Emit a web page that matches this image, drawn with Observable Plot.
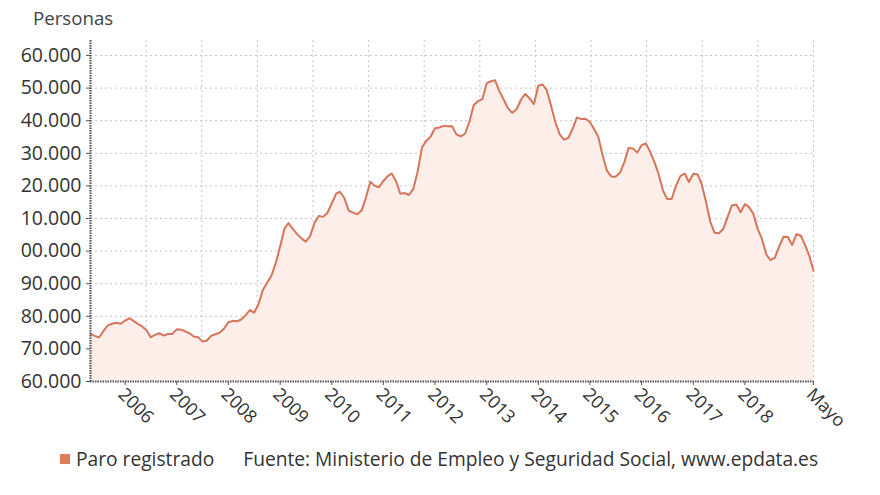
<!DOCTYPE html>
<html>
<head>
<meta charset="utf-8">
<script src="https://cdn.jsdelivr.net/npm/d3@7"></script>
<script src="https://cdn.jsdelivr.net/npm/@observablehq/plot@0.6"></script>
<style>
  body { margin: 0; background: #fff; font-family: "Open Sans", sans-serif; width: 880px; height: 495px; overflow: hidden; position: relative; }
  #title { position: absolute; left: 33px; top: 6px; font-size: 18.7px; color: #444; line-height: 24px; }
  #chart { position: absolute; left: 0; top: 38px; }
  #legend { position: absolute; left: 60px; top: 447px; font-size: 19.2px; color: #333; line-height: 24px; display: flex; align-items: center; white-space: nowrap; }
  #legend .sw { width: 10px; height: 10px; background: #e07b5f; margin-right: 6px; }
  #legend .src { margin-left: 29px; }
</style>
</head>
<body>
<div id="title">Personas</div>
<div id="chart"></div>
<div id="legend"><span class="sw"></span><span>Paro registrado</span><span class="src">Fuente: Ministerio de Empleo y Seguridad Social, www.epdata.es</span></div>
<script>
// Monthly series, May 2005 to May 2019
const firstMonth = "2005-05-01";
const paro = [
  74600, 74000, 73500, 75500, 77200, 77700, 78000, 77700,
  78700, 79400, 78600, 77700, 76900, 75700, 73600, 74300, 74800, 74100, 74600, 74600,
  76000, 75900, 75400, 74800, 73800, 73600, 72300, 72500, 74000, 74500, 75000, 76200,
  78200, 78600, 78500, 79000, 80300, 81900, 81100, 83700, 88100, 90300, 92500, 96300,
  101400, 106900, 108600, 106800, 105200, 103900, 102900, 104600, 108600, 110800, 110500, 111700,
  114600, 117600, 118200, 116200, 112400, 111800, 111300, 112500, 116600, 121300, 120000, 119600,
  121500, 123000, 123800, 121400, 117600, 117800, 117200, 119100, 124500, 131800, 133800, 135100,
  137700, 137900, 138400, 138300, 138300, 135800, 135200, 136000, 139700, 144800, 146000, 146600,
  151500, 152100, 152400, 149000, 146500, 143800, 142400, 143600, 146500, 148200, 146800, 145100,
  150700, 151100, 149400, 144600, 139600, 135800, 134200, 134700, 137600, 141000, 140500, 140600,
  139600, 137300, 135100, 129300, 124700, 122900, 122800, 124000, 127200, 131600, 131500, 130200,
  132500, 133000, 130500, 127300, 123600, 118500, 116000, 116000, 120100, 123000, 123800, 121200,
  123700, 123500, 120600, 115100, 109000, 105600, 105500, 106800, 110500, 114000, 114300, 111900,
  114400, 113400, 111500, 106800, 103800, 99000, 97200, 98000, 101500, 104400, 104300, 101900,
  105200, 104700, 102000, 98600, 94000
];
const xTickDates = ["2006-01-01","2007-01-01","2008-01-01","2009-01-01","2010-01-01","2011-01-01","2012-01-01","2013-01-01","2014-01-01","2015-01-01","2016-01-01","2017-01-01","2018-01-01","2019-05-01"];
const xTickLabels = ["2006","2007","2008","2009","2010","2011","2012","2013","2014","2015","2016","2017","2018","Mayo"];
const yTicks = [60000,70000,80000,90000,100000,110000,120000,130000,140000,150000,160000];
const yTickLabels = ["60.000","70.000","80.000","90.000","00.000","10.000","20.000","30.000","40.000","50.000","60.000"];

const start = new Date(firstMonth + "T00:00:00Z");
const data = paro.map((v, i) => ({date: d3.utcMonth.offset(start, i), value: v}));
const end = data[data.length - 1].date;
const xTicks = xTickDates.map(s => new Date(s + "T00:00:00Z"));
// vertical grid: 13 equal divisions of the period
const gridX = d3.range(1, 14).map(i => new Date(+start + i * (end - start) / 13));
const yMin = 60000, yMax = 164600;

const chart = Plot.plot({
  width: 880,
  height: 393,
  marginLeft: 90,
  marginRight: 67,
  marginTop: 2,
  marginBottom: 50,
  style: {fontFamily: "Open Sans, sans-serif", fontSize: "18px", color: "#333", overflow: "visible", background: "transparent"},
  x: {type: "utc", domain: [start, end], label: null},
  y: {domain: [yMin, yMax], label: null},
  marks: [
    Plot.ruleY(yTicks.slice(1), {stroke: "#c4c4c4", strokeDasharray: "2,3", strokeWidth: 1}),
    Plot.ruleX(gridX, {stroke: "#c4c4c4", strokeDasharray: "2,3", strokeWidth: 1}),
    Plot.areaY(data, {x: "date", y1: yMin, y2: "value", fill: "#fdeeea"}),
    Plot.lineY(data, {x: "date", y: "value", stroke: "#d6755a", strokeWidth: 2}),
    Plot.ruleX([start], {stroke: "#555", strokeDasharray: "1.5,1", strokeWidth: 2.2}),
    Plot.ruleY([yMin], {stroke: "#555", strokeDasharray: "1.5,1", strokeWidth: 2.2}),
    Plot.axisY({ticks: yTicks, tickSize: 4, tickPadding: 5, stroke: "#555", label: null,
      tickFormat: d => yTickLabels[yTicks.indexOf(d)], fill: "#333", fontSize: 19.5}),
    Plot.axisX({ticks: xTicks, tickSize: 4, stroke: "#555", label: null, tickFormat: () => ""}),
    Plot.text(xTicks, {x: d => d, text: (d, i) => xTickLabels[i], frameAnchor: "bottom",
      rotate: 45, textAnchor: "start", dx: -8, dy: 14, fontSize: 18, fill: "#333"})
  ]
});
document.getElementById("chart").appendChild(chart);
</script>
</body>
</html>
